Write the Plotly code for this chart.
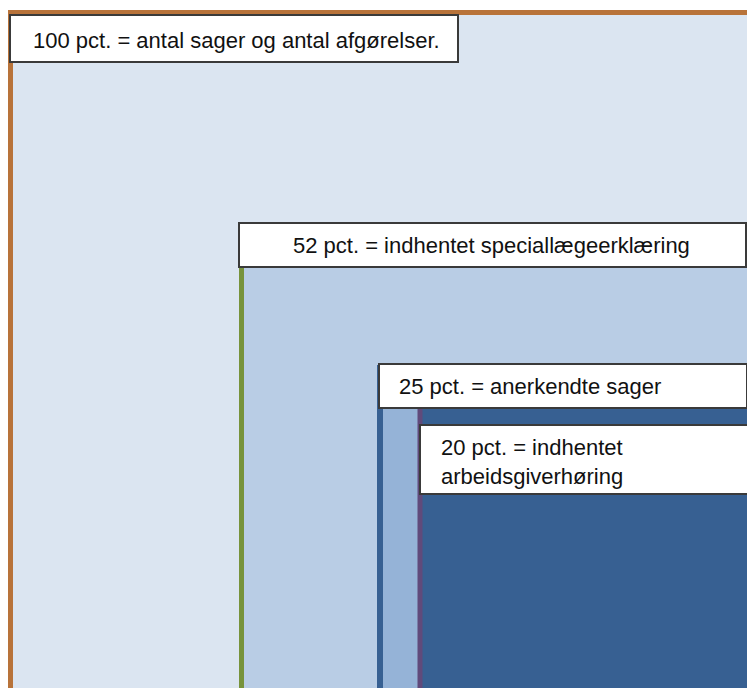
import plotly.graph_objects as go

# Shares of cases (percent) and what each share covers
pct = [100, 52, 25, 20]
desc = [
    "antal sager og antal afgørelser.",
    "indhentet speciallægeerklæring",
    "anerkendte sager",
    "indhentet<br>arbeidsgiverhøring",
]

# Styling per nesting level: fill, edge colour
fills = ["#DBE5F1", "#B9CDE5", "#95B3D7", "#376092"]
edges = ["#B8733A", "#77933C", "#376092", "#604A7B"]

# Layout of the nested panels (pixel space, y downwards)
panel_left = [10.5, 241.5, 380, 420]
panel_top = [12.5, 226, 368, 404]
box_x0 = [10, 239, 379, 420]
box_x1 = [458, 746, 747, 748]
box_y0 = [15, 223, 364, 425]
box_y1 = [62, 267, 408, 494]
text_x = [31, 491, 397, 439]
text_y = [40, 245, 386, 462]
text_anchor = ["left", "center", "left", "left"]

W, H = 747, 688
fig = go.Figure()
shapes = []
annotations = []
for i, p in enumerate(pct):
    shapes.append(dict(
        type="rect", xref="x", yref="y",
        x0=panel_left[i], x1=W + 20, y0=panel_top[i], y1=H + 20,
        fillcolor=fills[i], line=dict(color=edges[i], width=5 if i != 2 else 6),
        layer="above",
    ))
for i, p in enumerate(pct):
    shapes.append(dict(
        type="rect", xref="x", yref="y",
        x0=box_x0[i], x1=box_x1[i], y0=box_y0[i], y1=box_y1[i],
        fillcolor="white", line=dict(color="#3A3A3A", width=2),
        layer="above",
    ))
    annotations.append(dict(
        x=text_x[i], y=text_y[i], xref="x", yref="y",
        text=f"{p} pct. = {desc[i]}", showarrow=False,
        xanchor=text_anchor[i], yanchor="middle", align="left",
        font=dict(family="Liberation Sans, Arial, sans-serif", size=22, color="#111111"),
    ))

fig.update_layout(
    width=W, height=H,
    margin=dict(l=0, r=0, t=0, b=0),
    paper_bgcolor="white", plot_bgcolor="white",
    xaxis=dict(range=[0, W], visible=False, fixedrange=True),
    yaxis=dict(range=[H, 0], visible=False, fixedrange=True),
    shapes=shapes, annotations=annotations,
    showlegend=False,
)
fig.write_html("out.html", config={"displayModeBar": False})
